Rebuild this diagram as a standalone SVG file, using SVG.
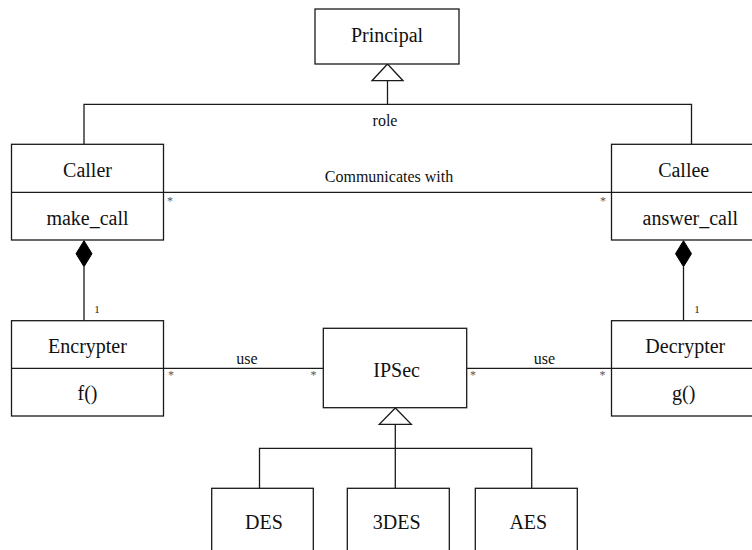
<svg xmlns="http://www.w3.org/2000/svg" width="752" height="550" viewBox="0 0 752 550">
  <style>
    .box { fill: #ffffff; stroke: #1a1a1a; stroke-width: 1.3; }
    .line { fill: none; stroke: #1a1a1a; stroke-width: 1.3; }
    text { font-family: "Liberation Serif", "Times New Roman", serif; text-anchor: middle; }
    .name { font-size: 20px; fill: #111; }
    .label { font-size: 16px; fill: #111; }
    .mult { font-size: 12px; fill: #555; }
    .one { font-size: 11px; fill: #222; }
    .hollow { fill: #ffffff; stroke: #1a1a1a; stroke-width: 1.3; }
    .solid { fill: #000000; stroke: #000000; stroke-width: 1; }
  </style>

  <!-- connectors -->
  <g id="connectors">
    <!-- generalization: Caller / Callee -> Principal -->
    <polyline class="line" points="84,144.3 84,104.3 691.5,104.3 691.5,144.3"/>
    <line class="line" x1="387.5" y1="80.7" x2="387.5" y2="104.3"/>
    <polygon class="hollow" points="387.5,64 372,80.7 403,80.7"/>
    <text class="label" x="385" y="126">role</text>

    <!-- association Caller - Callee -->
    <line class="line" x1="163.5" y1="192.3" x2="611.5" y2="192.3"/>
    <text class="label" x="389" y="181.5">Communicates with</text>
    <text class="mult" x="170" y="205">*</text>
    <text class="mult" x="603" y="205">*</text>

    <!-- composition Caller <>- Encrypter -->
    <line class="line" x1="84" y1="266.7" x2="84" y2="320.7"/>
    <polygon class="solid" points="84,240.7 92,253.7 84,266.7 76,253.7"/>
    <text class="one" x="97" y="313.3">1</text>

    <!-- composition Callee <>- Decrypter -->
    <line class="line" x1="683.5" y1="266.7" x2="683.5" y2="320.7"/>
    <polygon class="solid" points="683.5,240.7 691.5,253.7 683.5,266.7 675.5,253.7"/>
    <text class="one" x="697" y="313.3">1</text>

    <!-- use: Encrypter - IPSec -->
    <line class="line" x1="163.5" y1="368.3" x2="323.3" y2="368.3"/>
    <text class="label" x="247" y="364">use</text>
    <text class="mult" x="171" y="379">*</text>
    <text class="mult" x="313.5" y="379">*</text>

    <!-- use: IPSec - Decrypter -->
    <line class="line" x1="466.7" y1="368.3" x2="611.5" y2="368.3"/>
    <text class="label" x="544.5" y="364">use</text>
    <text class="mult" x="473" y="379">*</text>
    <text class="mult" x="602.5" y="379">*</text>

    <!-- generalization: DES / 3DES / AES -> IPSec -->
    <polyline class="line" points="259.5,488.3 259.5,448.3 531.7,448.3 531.7,488.3"/>
    <line class="line" x1="395.3" y1="424.3" x2="395.3" y2="488.3"/>
    <polygon class="hollow" points="395.3,408 379.3,424.3 411.3,424.3"/>
  </g>

  <g id="principal">
    <rect class="box" x="315" y="9" width="144" height="55"/>
    <text class="name" x="387" y="42">Principal</text>
  </g>

  <g id="caller">
    <rect class="box" x="11.5" y="144.3" width="152" height="95.7"/>
    <line class="line" x1="11.5" y1="192.3" x2="163.5" y2="192.3"/>
    <text class="name" x="87.5" y="176.7">Caller</text>
    <text class="name" x="87.5" y="225">make_call</text>
  </g>

  <g id="callee">
    <rect class="box" x="611.5" y="144.3" width="152" height="95.7"/>
    <line class="line" x1="611.5" y1="192.3" x2="763.5" y2="192.3"/>
    <text class="name" x="683.7" y="176.7">Callee</text>
    <text class="name" x="690.3" y="225">answer_call</text>
  </g>

  <g id="encrypter">
    <rect class="box" x="11.5" y="320.7" width="152" height="95.3"/>
    <line class="line" x1="11.5" y1="368.3" x2="163.5" y2="368.3"/>
    <text class="name" x="87.5" y="353">Encrypter</text>
    <text class="name" x="87.5" y="400">f()</text>
  </g>

  <g id="ipsec">
    <rect class="box" x="323.3" y="328.3" width="143.4" height="79.4"/>
    <text class="name" x="396.6" y="376.7">IPSec</text>
  </g>

  <g id="decrypter">
    <rect class="box" x="611.5" y="320.7" width="152" height="95.3"/>
    <line class="line" x1="611.5" y1="368.3" x2="763.5" y2="368.3"/>
    <text class="name" x="685.3" y="353">Decrypter</text>
    <text class="name" x="683.7" y="400">g()</text>
  </g>

  <g id="des">
    <rect class="box" x="211.7" y="488.3" width="101.6" height="80"/>
    <text class="name" x="264" y="529.3">DES</text>
  </g>

  <g id="tdes">
    <rect class="box" x="347.3" y="488.3" width="102" height="80"/>
    <text class="name" x="396.7" y="529.3">3DES</text>
  </g>

  <g id="aes">
    <rect class="box" x="475.3" y="488.3" width="102" height="80"/>
    <text class="name" x="528.3" y="529.3">AES</text>
  </g>
</svg>
